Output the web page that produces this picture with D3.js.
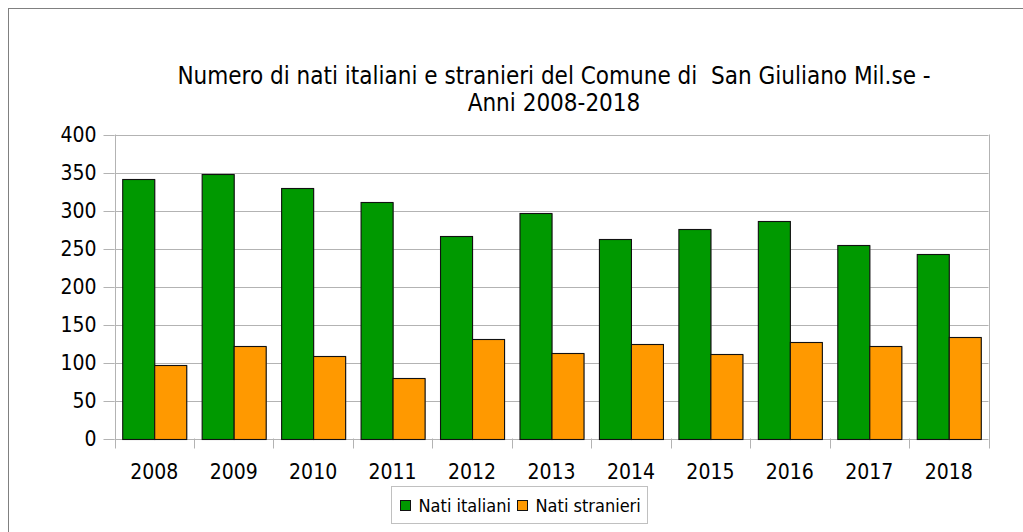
<!DOCTYPE html>
<html>
<head>
<meta charset="utf-8">
<script src="https://cdn.jsdelivr.net/npm/d3@7"></script>
<style>
  body { margin: 0; background: #fff; }
  text { font-family: "DejaVu Sans Condensed", "DejaVu Sans", sans-serif; font-stretch: condensed; fill: #000; }
</style>
</head>
<body>
<div id="chart"></div>
<script>
const years = ["2008", "2009", "2010", "2011", "2012", "2013", "2014", "2015", "2016", "2017", "2018"];
const natiItaliani = [341, 348, 330, 311, 266, 297, 262, 276, 286, 255, 243];
const natiStranieri = [97, 122, 108, 80, 131, 113, 124, 111, 127, 122, 133];
const seriesNames = ["Nati italiani", "Nati stranieri"];
const seriesColors = ["#009900", "#ff9900"];
const yTicks = [0, 50, 100, 150, 200, 250, 300, 350, 400];

const width = 1023, height = 532;
const plot = { left: 114.5, right: 988.5, top: 134.5, bottom: 438.5 };

const data = years.map((y, i) => ({ year: y, values: [natiItaliani[i], natiStranieri[i]] }));

const svg = d3.select("#chart").append("svg")
    .attr("width", width)
    .attr("height", height);

// outer frame
svg.append("rect")
    .attr("x", 8.5).attr("y", 8.5)
    .attr("width", width).attr("height", height)
    .attr("fill", "none")
    .attr("stroke", "#808080");

const xScale = d3.scaleBand()
    .domain(years)
    .range([plot.left, plot.right])
    .paddingInner(0.194)
    .paddingOuter(0.097);

const xSub = d3.scaleBand()
    .domain(d3.range(2))
    .range([0, xScale.bandwidth()]);

const yScale = d3.scaleLinear()
    .domain([0, 400])
    .range([plot.bottom, plot.top]);

// gridlines + y labels
const yAxis = svg.append("g")
    .attr("transform", `translate(${plot.left},0)`)
    .call(d3.axisLeft(yScale).tickValues(yTicks).tickSize(11).tickPadding(7).tickSizeOuter(0))
    .call(g => g.select(".domain").remove())
    .call(g => g.selectAll(".tick line").attr("stroke", "#b3b3b3"))
    .call(g => g.selectAll(".tick text")
        .attr("font-size", 21)
        .attr("font-family", "DejaVu Sans Condensed, DejaVu Sans, sans-serif"));

svg.append("g")
    .selectAll("line")
    .data(yTicks)
    .join("line")
    .attr("x1", plot.left)
    .attr("x2", plot.right)
    .attr("y1", d => Math.round(yScale(d)) + 0.5)
    .attr("y2", d => Math.round(yScale(d)) + 0.5)
    .attr("stroke", "#b3b3b3");

yAxis.selectAll(".tick").attr("transform", d => `translate(0,${Math.round(yScale(d)) + 0.5})`);

// vertical axis lines & category ticks
const step = xScale.step();
const boundaries = d3.range(years.length + 1).map(i => plot.left + i * step);
svg.append("g")
    .selectAll("line")
    .data(boundaries)
    .join("line")
    .attr("x1", d => Math.round(d) + 0.5)
    .attr("x2", d => Math.round(d) + 0.5)
    .attr("y1", (d, i) => (i === 0 || i === years.length) ? plot.top : plot.bottom)
    .attr("y2", plot.bottom + 10)
    .attr("stroke", "#b3b3b3");

// x labels
svg.append("g")
    .selectAll("text")
    .data(years)
    .join("text")
    .attr("x", d => xScale(d) + xScale.bandwidth() / 2)
    .attr("y", 479)
    .attr("text-anchor", "middle")
    .attr("font-size", 21)
    .text(d => d);

// bars
const groups = svg.append("g")
    .selectAll("g")
    .data(data)
    .join("g")
    .attr("transform", d => `translate(${xScale(d.year)},0)`);

groups.selectAll("rect.shadow")
    .data(d => d.values)
    .join("rect")
    .attr("class", "shadow")
    .attr("x", (d, i) => Math.round(xSub(i)) + 1)
    .attr("y", d => Math.round(yScale(d)) + 1)
    .attr("width", xSub.bandwidth())
    .attr("height", d => yScale(0) - Math.round(yScale(d)) - 1)
    .attr("fill", "#9a9a9a");

groups.selectAll("rect.bar")
    .data(d => d.values)
    .join("rect")
    .attr("class", "bar")
    .attr("x", (d, i) => Math.round(xSub(i)) + 0.5)
    .attr("y", d => Math.round(yScale(d)) + 0.5)
    .attr("width", xSub.bandwidth())
    .attr("height", d => Math.round(yScale(0)) - Math.round(yScale(d)))
    .attr("fill", (d, i) => seriesColors[i])
    .attr("stroke", "#111")
    .attr("stroke-width", 1.1);

// title
const title = svg.append("text")
    .attr("text-anchor", "middle")
    .attr("font-size", 24);
title.append("tspan").attr("x", 554).attr("y", 84)
    .text("Numero di nati italiani e stranieri del Comune di\u00a0 San Giuliano Mil.se -");
title.append("tspan").attr("x", 554).attr("y", 111)
    .text("Anni 2008-2018");

// legend
const legend = svg.append("g");
legend.append("rect")
    .attr("x", 391.5).attr("y", 486.5)
    .attr("width", 256).attr("height", 37)
    .attr("fill", "#fff")
    .attr("stroke", "#c0c0c0");

const legendX = [400.5, 517.5];
const legendItems = legend.selectAll("g.item")
    .data(seriesNames)
    .join("g")
    .attr("class", "item")
    .attr("transform", (d, i) => `translate(${legendX[i]},500.5)`);

legendItems.append("rect")
    .attr("width", 10).attr("height", 10)
    .attr("fill", (d, i) => seriesColors[i])
    .attr("stroke", "#111");

legendItems.append("text")
    .attr("x", 18)
    .attr("y", 11)
    .attr("font-size", 18)
    .text(d => d);
</script>
</body>
</html>
